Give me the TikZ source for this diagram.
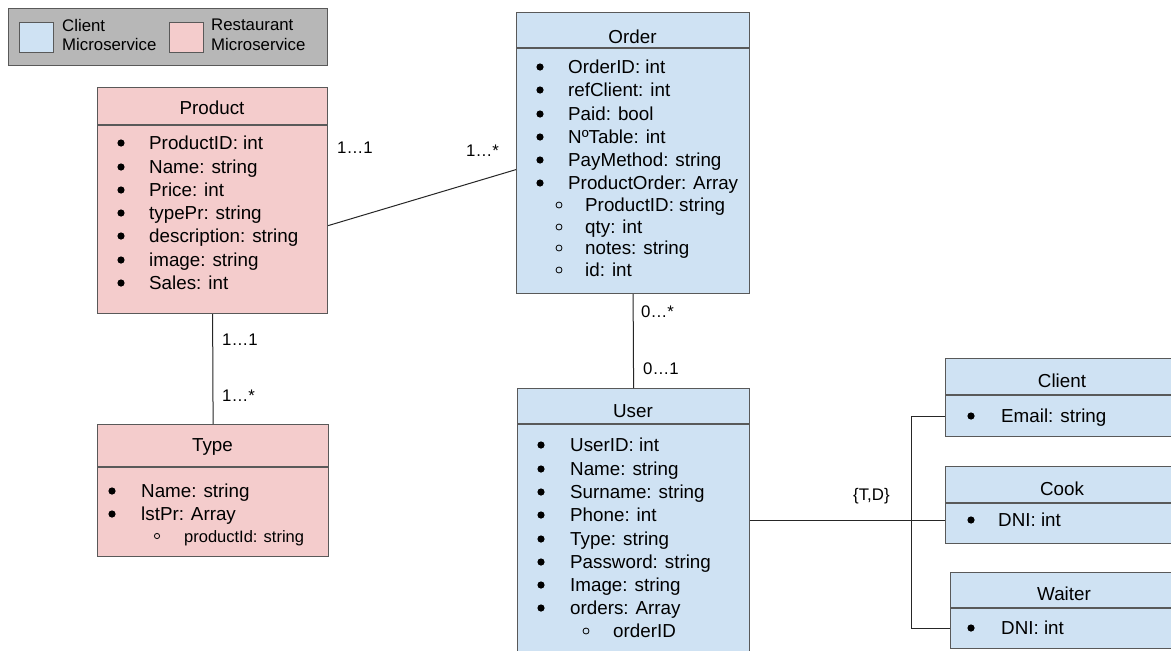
\documentclass[tikz,border=0pt]{standalone}
\usepackage{fontspec}
\setmainfont{Liberation Sans}
\definecolor{cblue}{HTML}{CFE2F3}
\definecolor{cpink}{HTML}{F4CCCC}
\definecolor{cgray}{HTML}{B7B7B7}
\definecolor{cline}{HTML}{595959}
\newcommand\fsA{\fontsize{18.8}{22}\selectfont}
\newcommand\fsB{\fontsize{16.5}{20}\selectfont}
\newcommand\fsL{\fontsize{16.8}{20}\selectfont}
\tikzset{
  clsbox/.style={draw=cline, line width=1.2pt, anchor=north west, inner sep=0pt},
  hdr/.style={draw=cline, line width=1.2pt},
  title/.style={font=\fsA, inner sep=0pt, anchor=base},
  attr/.style={font=\fsA, inner sep=0pt, anchor=base west},
  sattr/.style={font=\fsB, inner sep=0pt, anchor=base west},
  lbl/.style={font=\fsL, inner sep=0pt, anchor=base west},
  conn/.style={draw=black!85, line width=1pt},
}
\begin{document}
\begin{tikzpicture}[x=1pt,y=-1pt]
\useasboundingbox (0,0) rectangle (1171,651);
\clip (0,0) rectangle (1171,651);
\fill[white] (0,0) rectangle (1171,651);

% Legend
\node[clsbox, fill=cgray, minimum width=319pt, minimum height=57pt] (legend) at (8,8) {};
\node[clsbox, fill=cblue, minimum width=34pt, minimum height=30pt] (swblue) at (19,22) {};
\node[clsbox, fill=cpink, minimum width=34pt, minimum height=30pt] (swpink) at (169,22) {};
\node[font=\fsL, inner sep=0pt, anchor=north west, align=left] (legc) at (62,19) {Client\\[-0.5pt]Microservice};
\node[font=\fsL, inner sep=0pt, anchor=north west, align=left] (legr) at (211,19) {Restaurant\\[-0.5pt]Microservice};

% Product
\node[clsbox, fill=cpink, minimum width=230pt, minimum height=226pt] (product) at (97,87) {};
\draw[hdr] (97,125) -- (327,125);
\node[title] (productT) at (212,114.5) {Product};
\foreach \n/\y/\t in {p1/143/{ProductID: int},p2/167/{Name: string},p3/190/{Price: int},p4/213/{typePr: string},p5/236/{description: string},p6/260/{image: string},p7/283/{Sales: int}}{
  \fill (121,\y) circle (3.6pt);
  \node[attr] (\n) at (149,\y+6.7) {\t};
}

% Type
\node[clsbox, fill=cpink, minimum width=231pt, minimum height=132pt] (type) at (97,424) {};
\draw[hdr] (97,467) -- (328,467);
\node[title] (typeT) at (212.5,451) {Type};
\foreach \n/\y/\t in {t1/491/{Name: string},t2/514/{lstPr: Array}}{
  \fill (112,\y) circle (3.6pt);
  \node[attr] (\n) at (141,\y+6.7) {\t};
}
\draw[line width=0.8pt] (157,536) circle (2.6pt);
\node[sattr] (t3) at (184,536+6) {productId: string};

% Order
\node[clsbox, fill=cblue, minimum width=233pt, minimum height=281pt] (order) at (516,12) {};
\draw[hdr] (516,48) -- (749,48);
\node[title] (orderT) at (632.5,43) {Order};
\foreach \n/\y/\t in {o1/67/{OrderID: int},o2/90/{refClient: int},o3/114/{Paid: bool},o4/137/{NºTable: int},o5/160/{PayMethod: string},o6/183/{ProductOrder: Array}}{
  \fill (540,\y) circle (3.6pt);
  \node[attr] (\n) at (568,\y+6.7) {\t};
}
\foreach \n/\y/\t in {s1/205/{ProductID: string},s2/227/{qty: int},s3/248/{notes: string},s4/270/{id: int}}{
  \draw[line width=0.8pt] (559,\y) circle (3pt);
  \node[attr] (\n) at (585,\y+6.7) {\t};
}

% User
\node[clsbox, fill=cblue, minimum width=232pt, minimum height=280pt] (user) at (517,388) {};
\draw[hdr] (517,424) -- (749,424);
\node[title] (userT) at (633,417) {User};
\foreach \n/\y/\t in {u1/445/{UserID: int},u2/469/{Name: string},u3/492/{Surname: string},u4/515/{Phone: int},u5/539/{Type: string},u6/562/{Password: string},u7/585/{Image: string},u8/608/{orders: Array}}{
  \fill (541,\y) circle (3.6pt);
  \node[attr] (\n) at (570,\y+6.7) {\t};
}
\draw[line width=0.8pt] (586,631) circle (3pt);
\node[attr] (u9) at (613,631+6.7) {orderID};

% Client
\node[clsbox, fill=cblue, minimum width=240pt, minimum height=78pt] (client) at (945,358) {};
\draw[hdr] (945,395) -- (1180,395);
\node[title] (clientT) at (1062,387) {Client};
\coordinate (cb) at (971,416);
\fill (cb) circle (3.6pt);
\node[attr] (c1) at (1001,416+6.7) {Email: string};

% Cook
\node[clsbox, fill=cblue, minimum width=240pt, minimum height=77pt] (cook) at (945,466) {};
\draw[hdr] (945,503) -- (1180,503);
\node[title] (cookT) at (1062,495) {Cook};
\coordinate (kb) at (971,520);
\fill (kb) circle (3.6pt);
\node[attr] (k1) at (998,520+6.7) {DNI: int};

% Waiter
\node[clsbox, fill=cblue, minimum width=235pt, minimum height=76pt] (waiter) at (950,572) {};
\draw[hdr] (950,608) -- (1180,608);
\node[title] (waiterT) at (1064,600) {Waiter};
\coordinate (wb) at (971,628);
\fill (wb) circle (3.6pt);
\node[attr] (w1) at (1001,628+6.7) {DNI: int};

% Connectors
\draw[conn] ([yshift=-25pt]product.east) -- ([yshift=-16.5pt]order.west);
\node[lbl] (l1) at (337,153) {1…1};
\node[lbl] (l2) at (466,156) {1…*};
\draw[conn] (product.south) -- (type.north);
\node[lbl] (l3) at (222,345) {1…1};
\node[lbl] (l4) at (222,401) {1…*};
\draw[conn] (order.south) -- (user.north);
\node[lbl] (l5) at (641,317) {0…*};
\node[lbl] (l6) at (643,374) {0…1};
\coordinate (jt) at (911,416);
\coordinate (jb) at (911,628);
\draw[conn] (client.west |- cb) -- (jt) -- (jb) -- (waiter.west |- wb);
\draw[conn] (user.east |- kb) -- (cook.west |- kb);
\node[lbl] (l7) at (853,500) {\{T,D\}};
\end{tikzpicture}
\end{document}
